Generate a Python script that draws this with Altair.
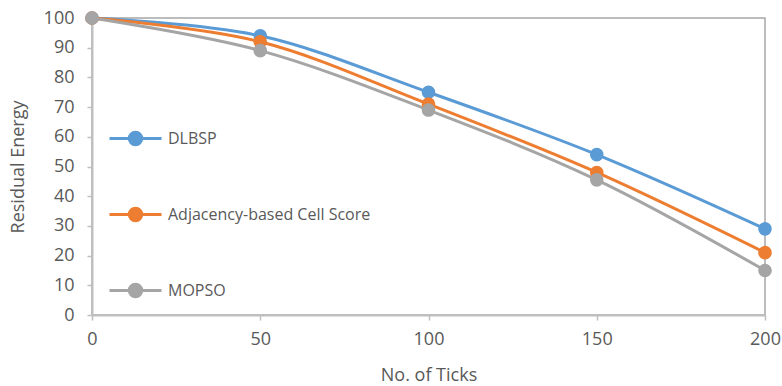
import altair as alt
import pandas as pd

ticks = [0, 50, 100, 150, 200]
dlbsp = [100, 94, 75, 54, 29]
adjacency = [100, 92, 71, 48, 21]
mopso = [100, 89, 69, 45.5, 15]
series_names = ["DLBSP", "Adjacency-based Cell Score", "MOPSO"]
series_colors = ["#5B9BD5", "#ED7D31", "#A5A5A5"]
y_ticks = list(range(0, 101, 10))

rows = []
for name, vals in zip(series_names, [dlbsp, adjacency, mopso]):
    for t, v in zip(ticks, vals):
        rows.append({"Ticks": t, "Energy": v, "Series": name})
df = pd.DataFrame(rows)

FONT = "Open Sans"
TXT = "#595959"
AX = "#BFBFBF"

x = alt.X("Ticks:Q", scale=alt.Scale(domain=[0, 200], nice=False),
          axis=alt.Axis(values=ticks, title="No. of Ticks", grid=False,
                        titleY=65, titleBaseline="alphabetic", labelPadding=10))
y = alt.Y("Energy:Q", scale=alt.Scale(domain=[0, 100], nice=False),
          axis=alt.Axis(values=y_ticks, title="Residual Energy", grid=False,
                        labelPadding=13, titleX=-74, titleY=148.5,
                        titleAngle=-90, titleBaseline="middle", titleAlign="center"))

sc = alt.Scale(domain=series_names, range=series_colors)
legend = alt.Legend(
    title=None, orient="none", legendX=16, legendY=93,
    symbolType="M-1,0L1,0M-0.24,0A0.24,0.24,0,1,1,0.24,0A0.24,0.24,0,1,1,-0.24,0Z",
    symbolSize=2704, symbolStrokeWidth=3, rowPadding=36,
    labelFont=FONT, labelFontSize=16, labelColor=TXT, labelOffset=5,
    padding=0, labelLimit=400,
)

lines = alt.Chart(df).mark_line(interpolate="cardinal", strokeWidth=3).encode(
    x=x, y=y,
    stroke=alt.Stroke("Series:N", scale=sc, sort=series_names, legend=legend),
)
points = alt.Chart(df).mark_circle(size=185, opacity=1, strokeWidth=0).encode(
    x=x, y=y,
    fill=alt.Fill("Series:N", scale=sc, sort=series_names, legend=legend),
    stroke=alt.Stroke("Series:N", scale=sc, sort=series_names, legend=legend),
)

chart = alt.layer(lines, points).properties(
    width=673, height=297,
    autosize=alt.AutoSizeParams(type="none"),
    padding={"left": 92, "top": 18, "right": 17, "bottom": 71},
).configure_view(
    stroke="#A6A6A6", strokeWidth=1.5
).configure_axis(
    domainColor=AX, domainWidth=2, tickColor=AX, tickWidth=1.5, tickSize=5,
    labelFont=FONT, labelFontSize=18, labelColor=TXT, labelFlush=False,
    labelOverlap=False,
    titleFont=FONT, titleFontSize=18, titleColor=TXT, titleFontWeight="normal",
)

chart.save("out.html", embed_options={"renderer": "svg", "actions": False})
